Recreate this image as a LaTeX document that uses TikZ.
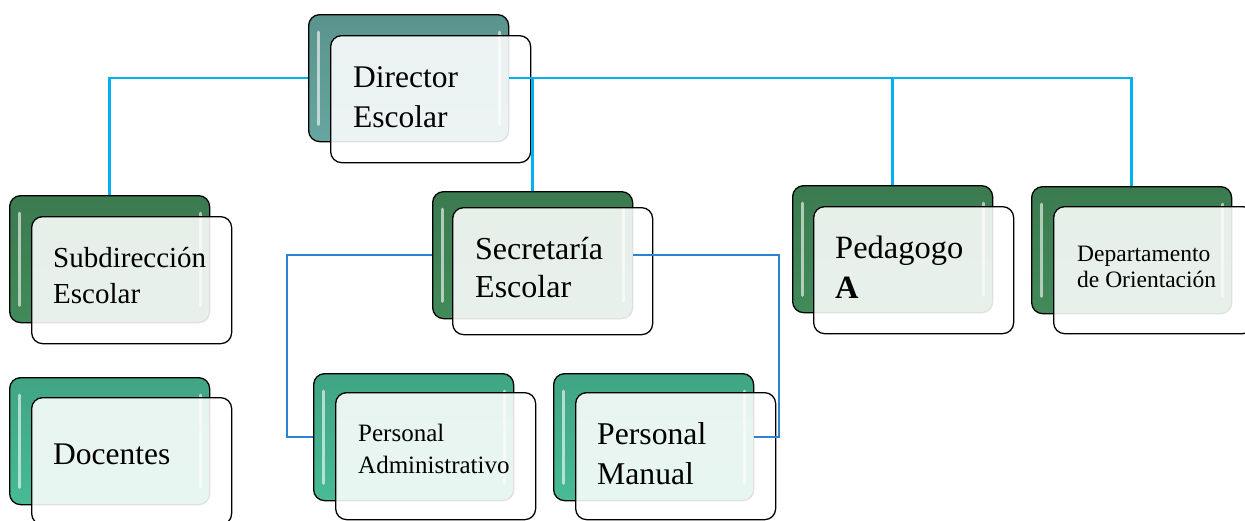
\documentclass[tikz,border=0pt]{standalone}
\usepackage{fontspec}
\setmainfont{Liberation Serif}
\usetikzlibrary{calc}

\definecolor{dirteal}{HTML}{6AADA6}
\definecolor{boxgreen}{HTML}{45905D}
\definecolor{boxmint}{HTML}{4BC29C}
\definecolor{topline}{HTML}{00B0F0}
\definecolor{lowline}{HTML}{2F82D2}

\newcommand{\boxshine}[1]{%
    \draw [shine] ([xshift=10pt, yshift=-18pt]#1.north west) -- ([xshift=10pt, yshift=18pt]#1.south west);
    \draw [shine] ([xshift=-10pt, yshift=-18pt]#1.north east) -- ([xshift=-10pt, yshift=18pt]#1.south east);}

\begin{document}
\begin{tikzpicture}[x=1pt, y=-1pt,
    back/.style={rectangle, rounded corners=11pt, draw=black, line width=1.3pt, minimum width=200pt, minimum height=127pt, anchor=north west, inner sep=0pt},
    shade box/.style={back, top color=#1!85!black, middle color=#1, bottom color=#1!96!black},
    front/.style={back, fill=white, fill opacity=0.88},
    label/.style={anchor=base west, align=left, inner sep=0pt},
    shine/.style={white, opacity=0.6, line width=3pt, line cap=round},
    link/.style={line width=2.6pt}]

    \clip (0, 0) rectangle (1245, 520);

    % back boxes
    \node [shade box=dirteal] (dirb) at (308, 14) {};
    \node [shade box=boxgreen] (subb) at (9, 195) {};
    \node [shade box=boxmint] (docb) at (9, 377) {};
    \node [shade box=boxgreen] (secb) at (432, 191) {};
    \node [shade box=boxgreen] (pedb) at (792, 185) {};
    \node [shade box=boxgreen] (depb) at (1031, 186) {};
    \node [shade box=boxmint] (admb) at (313, 373) {};
    \node [shade box=boxmint] (manb) at (553, 373) {};
    \boxshine{dirb} \boxshine{subb} \boxshine{docb} \boxshine{secb}
    \boxshine{pedb} \boxshine{depb} \boxshine{admb} \boxshine{manb}

    % front boxes
    \node [front] (dirf) at (330, 35) {};
    \node [front] (subf) at (31, 216) {};
    \node [front] (docf) at (31, 397) {};
    \node [front] (secf) at (452, 207) {};
    \node [front] (pedf) at (813, 206) {};
    \node [front] (depf) at (1053, 206) {};
    \node [front] (admf) at (335, 392) {};
    \node [front] (manf) at (575, 392) {};

    % texts (base = last line)
    \node [label, font=\fontsize{31.5}{40}\selectfont] (dirt) at (353, 127) {Director\\Escolar};
    \node [label, font=\fontsize{29}{36}\selectfont] (subt) at (53, 303) {Subdirección\\Escolar};
    \node [label, font=\fontsize{31.5}{40}\selectfont] (doct) at (53, 464) {Docentes};
    \node [label, font=\fontsize{32}{38}\selectfont] (sect) at (475, 297) {Secretaría\\Escolar};
    \node [label, font=\fontsize{32.5}{40}\selectfont] (pedt) at (835, 298) {Pedagogo\\\textbf{A}};
    \node [label, font=\fontsize{23.5}{26}\selectfont] (dept) at (1077, 287) {Departamento\\de Orientación};
    \node [label, font=\fontsize{25}{32}\selectfont] (admt) at (358, 473) {Personal\\Administrativo};
    \node [label, font=\fontsize{31.7}{40}\selectfont] (mant) at (597, 484) {Personal\\Manual};

    % connectors
    \coordinate (secleft) at (287, 0);
    \coordinate (secright) at (779, 0);
    \draw [link, topline] (dirb.west) -| (subb.north);
    \draw [link, topline] (dirb.east) -| (depb.north);
    \draw [link, topline] (dirb.east -| secb.north) -- (secb.north);
    \draw [link, topline] (dirb.east -| pedb.north) -- (pedb.north);
    \draw [link, lowline] (secb.west) -- (secb.west -| secleft) |- (admb.west);
    \draw [link, lowline] (secb.east) -- (secb.east -| secright) |- (manb.east);
\end{tikzpicture}
\end{document}
